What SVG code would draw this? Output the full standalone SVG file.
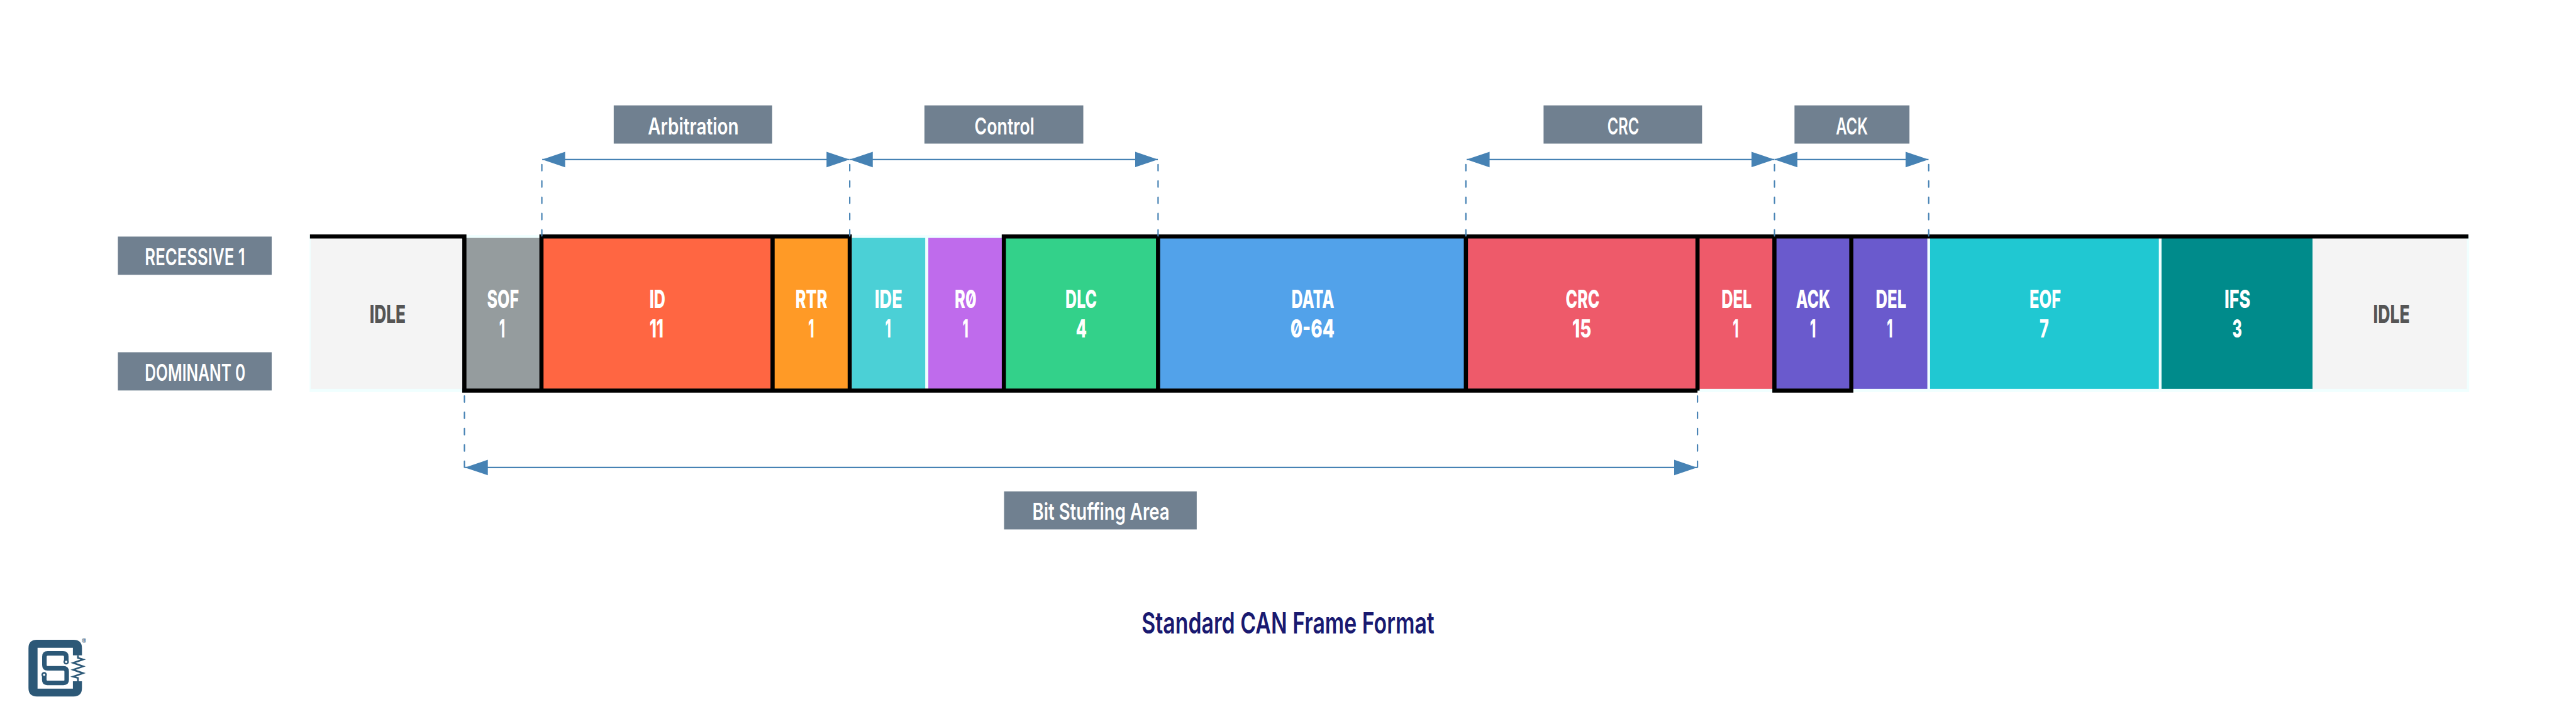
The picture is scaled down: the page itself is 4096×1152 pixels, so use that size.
<svg xmlns="http://www.w3.org/2000/svg" width="4096" height="1152" viewBox="0 0 4096 1152">
<style>
text{font-family:"Inter","Roboto","Liberation Sans",sans-serif;font-feature-settings:"zero" 1}
.lb{fill:#708090}
.lt{fill:#fff;font-size:59.5px;font-weight:600;font-feature-settings:"zero" 0}
.ct{fill:#fff;font-size:65px;font-weight:800}
.id{fill:#555;font-size:65px;font-weight:800}
.ti{fill:#191970;font-size:76px;font-weight:600}
.bl{stroke:#000;stroke-width:10.7;fill:none}
.ar{stroke:#4682b4;stroke-width:3.5;fill:none}
.da{stroke:#4682b4;stroke-width:3.5;fill:none;stroke-dasharray:16 26;stroke-linecap:round}
.hd{fill:#4682b4}
</style>
<defs>
<marker id="aE" markerUnits="userSpaceOnUse" markerWidth="60" markerHeight="42" refX="59" refY="20.5" orient="auto"><path class="hd" d="M0 .5L59 20.5L0 40.5Z"/></marker>
<marker id="aS" markerUnits="userSpaceOnUse" markerWidth="60" markerHeight="42" refX="1" refY="20.5" orient="auto"><path class="hd" d="M60 .5L1 20.5L60 40.5Z"/></marker>
</defs>
<rect width="4096" height="1152" fill="#fff"/>
<g transform="scale(.61761)">
<rect id="frame-bg" x="797" y="605.7" width="5560" height="404.3" fill="#f0ffff"/>
<g id="node-idle-start"><rect x="800" y="613" width="392" height="389" fill="#f4f4f4"/><text class="id" x="951.5" y="831.5" textLength="93" lengthAdjust="spacingAndGlyphs">IDLE</text></g>
<g id="node-sof"><rect x="1196" y="613" width="198" height="389" fill="#959c9e"/><text class="ct" x="1254" y="794" textLength="82" lengthAdjust="spacingAndGlyphs">SOF</text><text class="ct" x="1285" y="868.7" textLength="15" lengthAdjust="spacingAndGlyphs">1</text></g>
<g id="node-id"><rect x="1394" y="613" width="595" height="389" fill="#ff6642"/><text class="ct" x="1672" y="794" textLength="41" lengthAdjust="spacingAndGlyphs">ID</text><text class="ct" x="1672" y="868.7" textLength="36" lengthAdjust="spacingAndGlyphs">11</text></g>
<g id="node-rtr"><rect x="1989" y="613" width="198" height="389" fill="#ff9a26"/><text class="ct" x="2048" y="794" textLength="82" lengthAdjust="spacingAndGlyphs">RTR</text><text class="ct" x="2081" y="868.7" textLength="15" lengthAdjust="spacingAndGlyphs">1</text></g>
<g id="node-ide"><rect x="2193" y="613" width="189" height="389" fill="#4bd0d6"/><text class="ct" x="2252" y="794" textLength="71" lengthAdjust="spacingAndGlyphs">IDE</text><text class="ct" x="2279" y="868.7" textLength="15" lengthAdjust="spacingAndGlyphs">1</text></g>
<g id="node-r0"><rect x="2390" y="613" width="195" height="389" fill="#bf6bec"/><text class="ct" x="2458" y="794" textLength="56" lengthAdjust="spacingAndGlyphs">R0</text><text class="ct" x="2478" y="868.7" textLength="15" lengthAdjust="spacingAndGlyphs">1</text></g>
<g id="node-dlc"><rect x="2585" y="613" width="397" height="389" fill="#33d18a"/><text class="ct" x="2743" y="794" textLength="81" lengthAdjust="spacingAndGlyphs">DLC</text><text class="ct" x="2770" y="868.7" textLength="28" lengthAdjust="spacingAndGlyphs">4</text></g>
<g id="node-data"><rect x="2982" y="613" width="792" height="389" fill="#52a2ea"/><text class="ct" x="3325" y="794" textLength="110" lengthAdjust="spacingAndGlyphs">DATA</text><text class="ct" x="3322" y="868.7" textLength="114" lengthAdjust="spacingAndGlyphs">0-64</text></g>
<g id="node-crc"><rect x="3774" y="613" width="596" height="389" fill="#ee5a6a"/><text class="ct" x="4031" y="794" textLength="87" lengthAdjust="spacingAndGlyphs">CRC</text><text class="ct" x="4048" y="868.7" textLength="49" lengthAdjust="spacingAndGlyphs">15</text></g>
<g id="node-del1"><rect x="4370" y="613" width="198" height="389" fill="#ee5a6a"/><text class="ct" x="4432" y="794" textLength="78" lengthAdjust="spacingAndGlyphs">DEL</text><text class="ct" x="4461" y="868.7" textLength="15" lengthAdjust="spacingAndGlyphs">1</text></g>
<g id="node-ack"><rect x="4568" y="613" width="198" height="389" fill="#6a5acd"/><text class="ct" x="4624" y="794" textLength="88" lengthAdjust="spacingAndGlyphs">ACK</text><text class="ct" x="4660" y="868.7" textLength="15" lengthAdjust="spacingAndGlyphs">1</text></g>
<g id="node-del2"><rect x="4766" y="613" width="196" height="389" fill="#6a5acd"/><text class="ct" x="4829" y="794" textLength="79" lengthAdjust="spacingAndGlyphs">DEL</text><text class="ct" x="4858" y="868.7" textLength="15" lengthAdjust="spacingAndGlyphs">1</text></g>
<g id="node-eof"><rect x="4969" y="613" width="589" height="389" fill="#20c8d2"/><text class="ct" x="5225" y="794" textLength="81" lengthAdjust="spacingAndGlyphs">EOF</text><text class="ct" x="5251" y="868.7" textLength="24" lengthAdjust="spacingAndGlyphs">7</text></g>
<g id="node-ifs"><rect x="5565" y="613" width="389" height="389" fill="#008b8b"/><text class="ct" x="5727" y="794" textLength="67" lengthAdjust="spacingAndGlyphs">IFS</text><text class="ct" x="5747" y="868.7" textLength="25" lengthAdjust="spacingAndGlyphs">3</text></g>
<g id="node-idle-end"><rect x="5954" y="613" width="397" height="389" fill="#f4f4f4"/><text class="id" x="6110" y="831.5" textLength="94" lengthAdjust="spacingAndGlyphs">IDLE</text></g>
<g id="label-recessive"><rect class="lb" x="303.5" y="609.5" width="396" height="98.5"/><text class="lt" x="373" y="683.5" textLength="258" lengthAdjust="spacingAndGlyphs">RECESSIVE 1</text></g>
<g id="label-dominant"><rect class="lb" x="303.5" y="907.5" width="396" height="98.5"/><text class="lt" x="373" y="981" textLength="259" lengthAdjust="spacingAndGlyphs">DOMINANT 0</text></g>
<g id="label-arbitration"><rect class="lb" x="1580" y="271.5" width="408" height="98.5"/><text class="lt" x="1668" y="346" textLength="234" lengthAdjust="spacingAndGlyphs">Arbitration</text></g>
<g id="label-control"><rect class="lb" x="2380" y="271.5" width="409" height="98.5"/><text class="lt" x="2509" y="346" textLength="154" lengthAdjust="spacingAndGlyphs">Control</text></g>
<g id="label-crc"><rect class="lb" x="3974" y="271.5" width="408" height="98.5"/><text class="lt" x="4138" y="346" textLength="82" lengthAdjust="spacingAndGlyphs">CRC</text></g>
<g id="label-ack"><rect class="lb" x="4620" y="271.5" width="296" height="98.5"/><text class="lt" x="4726.5" y="346" textLength="82.5" lengthAdjust="spacingAndGlyphs">ACK</text></g>
<g id="label-bit-stuffing"><rect class="lb" x="2585" y="1266" width="496" height="98"/><text class="lt" x="2658" y="1339" textLength="353" lengthAdjust="spacingAndGlyphs">Bit Stuffing Area</text></g>
<g id="signal-lines">
<path class="bl" d="M798 609.3H1195.5V1006.4M1389 609.3H2193M2579 609.3H6355M1190 1006.4H4370.3M4370.3 604V1006.4M4563 1006.4H4771.5M4568.3 604V1011.7M4766.3 604V1011.7M1394 604V1011.7M1989 604V1011.7M2187.7 604V1011.7M2584.5 604V1011.7M2981.5 604V1011.7M3774 604V1011.7"/>
</g>
<g id="connectors">
<path class="da" d="M1395 424V610M2187.7 424V610M2981.5 424V610M3774 424V610M4568.5 424V610M4965.5 424V610"/>
<path class="da" d="M1195.7 1020V1204M4370.3 1020V1204"/>
<line class="ar" x1="1396" y1="411" x2="2187" y2="411" marker-start="url(#aS)" marker-end="url(#aE)"/>
<line class="ar" x1="2188" y1="411" x2="2981" y2="411" marker-start="url(#aS)" marker-end="url(#aE)"/>
<line class="ar" x1="3776" y1="411" x2="4568" y2="411" marker-start="url(#aS)" marker-end="url(#aE)"/>
<line class="ar" x1="4568.5" y1="411" x2="4965" y2="411" marker-start="url(#aS)" marker-end="url(#aE)"/>
<line class="ar" x1="1197" y1="1204.5" x2="4369" y2="1204.5" marker-start="url(#aS)" marker-end="url(#aE)"/>
</g>
<text id="title" class="ti" x="2939" y="1632" textLength="754" lengthAdjust="spacingAndGlyphs">Standard CAN Frame Format</text>
<g id="logo" transform="translate(40 1600) scale(.33333)">
<path fill="#2c5877" d="M513 265V210Q513 145 448 145H165Q100 145 100 210V518Q100 583 165 583H448Q513 583 513 518V465H443V522H170V207H443V265Z"/>
<path fill="none" stroke="#2c5877" stroke-width="35" d="M392 315V275Q392 250 367 250H248Q223 250 223 275V340Q223 365 248 365H370Q395 365 395 390V455Q395 478 370 478H245Q222 478 222 455V415"/>
<circle cx="391" cy="315" r="15" fill="#fff" stroke="#2c5877" stroke-width="12"/>
<circle cx="221" cy="415" r="15" fill="#fff" stroke="#2c5877" stroke-width="12"/>
<path fill="none" stroke="#2c5877" stroke-width="13" d="M482 265V285L522 297L445 323L522 350L445 377L522 403L445 430L482 440V465"/>
<rect x="516" y="137" width="27" height="27" rx="8" fill="none" stroke="#2c5877" stroke-width="4"/>
<text x="522" y="158" fill="#2c5877" font-size="21" font-weight="700">R</text>
</g>
</g>
</svg>
